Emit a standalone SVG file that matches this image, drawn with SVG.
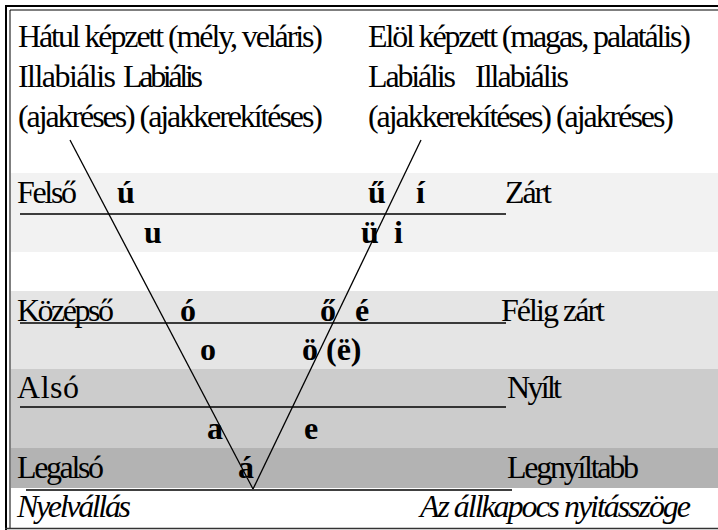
<svg xmlns="http://www.w3.org/2000/svg" width="718" height="530" viewBox="0 0 718 530">
<style>
.t{font-family:"Liberation Serif","Times New Roman",serif;font-size:32px;fill:#000}
.b{font-family:"Liberation Serif","Times New Roman",serif;font-size:32px;font-weight:bold;fill:#000}
.i{font-style:italic}
.rule{stroke:#000;stroke-width:1.4;fill:none}
.leg{stroke:#000;stroke-width:1.3;fill:none}
</style>
<rect width="718" height="530" fill="#fff"/>
<g id="bands">
<rect x="11" y="173" width="707" height="79" fill="#f2f2f2"/>
<rect x="11" y="291" width="707" height="78" fill="#e5e5e5"/>
<rect x="11" y="369" width="707" height="79" fill="#cccccc"/>
<rect x="11" y="448" width="707" height="40" fill="#b3b3b3"/>
</g>
<g id="frame">
<path d="M6,530 V6 H718" stroke="#000" stroke-width="2" fill="none"/>
<path d="M10,528 V10 H718" stroke="#000" stroke-width="1" fill="none"/>
<line x1="5" y1="528.5" x2="718" y2="528.5" stroke="#333" stroke-width="1.5"/>
</g>
<g id="headers">
<text class="t" x="18" y="46.5" textLength="305" lengthAdjust="spacing">Hátul képzett (mély, veláris)</text>
<text class="t" x="18" y="86.5" textLength="98" lengthAdjust="spacing">Illabiális</text>
<text class="t" x="123" y="86.5" textLength="80" lengthAdjust="spacing">Labiális</text>
<text class="t" x="18" y="126.5" textLength="305" lengthAdjust="spacing">(ajakréses) (ajakkerekítéses)</text>
<text class="t" x="368" y="46.5" textLength="323" lengthAdjust="spacing">Elöl képzett (magas, palatális)</text>
<text class="t" x="368" y="86.5" textLength="88" lengthAdjust="spacing">Labiális</text>
<text class="t" x="475" y="86.5" textLength="94" lengthAdjust="spacing">Illabiális</text>
<text class="t" x="368" y="126.5" textLength="306" lengthAdjust="spacing">(ajakkerekítéses) (ajakréses)</text>
</g>
<g id="rules">
<line class="rule" x1="20" y1="214" x2="506" y2="214"/>
<line class="rule" x1="20" y1="323" x2="506" y2="323"/>
<line class="rule" x1="20" y1="407" x2="506" y2="407"/>
<line class="rule" x1="26" y1="490" x2="512" y2="490"/>
</g>
<g id="connectors">
<line class="leg" x1="70" y1="140" x2="253" y2="489"/>
<line class="leg" x1="421" y1="140" x2="253" y2="489"/>
</g>
<g id="row-felso">
<text class="t" x="17" y="202.5" textLength="60" lengthAdjust="spacing">Felső</text>
<text class="t" x="505" y="202.5" textLength="47" lengthAdjust="spacing">Zárt</text>
<text class="b" x="117" y="202.5">ú</text>
<text class="b" x="368" y="202.5">ű</text>
<text class="b" x="416" y="202.5">í</text>
<text class="b" x="144" y="242.5">u</text>
<text class="b" x="361" y="242.5">ü</text>
<text class="b" x="394" y="242.5">i</text>
</g>
<g id="row-kozepso">
<text class="t" x="17" y="320.5" textLength="97" lengthAdjust="spacing">Középső</text>
<text class="t" x="501" y="320.5" textLength="104" lengthAdjust="spacing">Félig zárt</text>
<text class="b" x="180" y="320.5">ó</text>
<text class="b" x="320" y="320.5">ő</text>
<text class="b" x="355" y="320.5">é</text>
<text class="b" x="200" y="359.5">o</text>
<text class="b" x="302" y="359.5">ö (ë)</text>
</g>
<g id="row-also">
<text class="t" x="17" y="397.5" textLength="62" lengthAdjust="spacing">Alsó</text>
<text class="t" x="507" y="397.5" textLength="55" lengthAdjust="spacing">Nyílt</text>
<text class="b" x="207" y="438.5">a</text>
<text class="b" x="304" y="438.5">e</text>
</g>
<g id="row-legalso">
<text class="t" x="17" y="477.5" textLength="87" lengthAdjust="spacing">Legalsó</text>
<text class="t" x="507" y="477.5" textLength="132" lengthAdjust="spacing">Legnyíltabb</text>
<text class="b" x="238" y="477.5">á</text>
</g>
<g id="axes">
<text class="t i" x="17" y="516.5" textLength="114" lengthAdjust="spacing">Nyelvállás</text>
<text class="t i" x="420" y="516.5" textLength="271" lengthAdjust="spacing">Az állkapocs nyitásszöge</text>
</g>
</svg>
